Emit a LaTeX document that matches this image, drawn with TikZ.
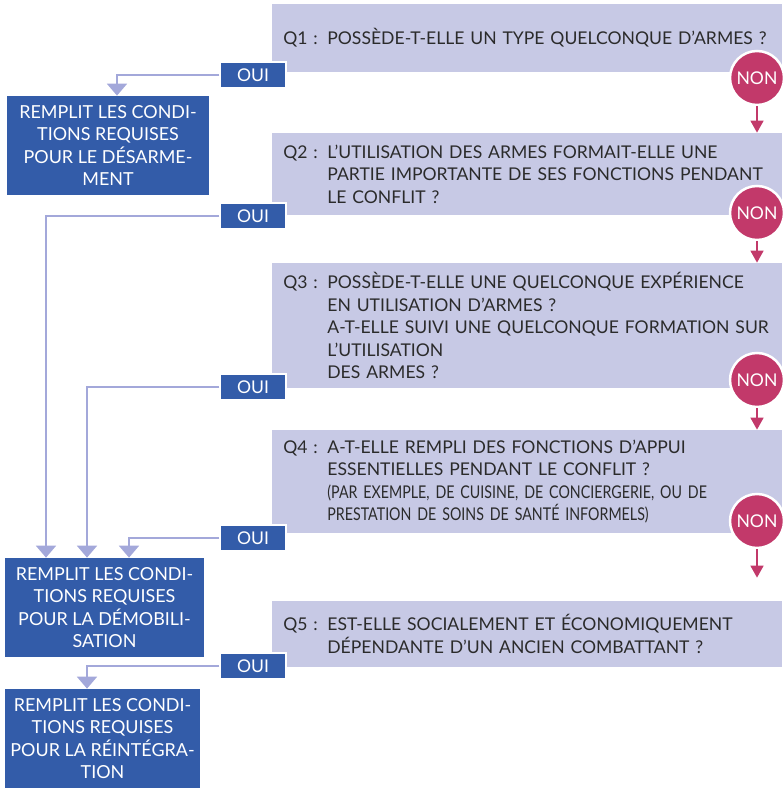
\documentclass[tikz,border=0pt]{standalone}
\usepackage{fontspec}
\setmainfont{Lato}
\newfontfamily\condfont[FakeStretch=0.81]{Lato}
\usetikzlibrary{arrows.meta}
\definecolor{qfill}{HTML}{C7C9E5}
\definecolor{bleu}{HTML}{335CA9}
\definecolor{lien}{HTML}{A3A8DA}
\definecolor{rose}{HTML}{C2396A}
\definecolor{texte}{HTML}{2B2B2B}
\newcommand{\qfont}{\fontsize{10}{12.8}\selectfont}
\newcommand{\qtexte}[2]{\makebox[8.8mm][l]{#1}\parbox[t]{88.8mm}{\qfont #2}}
\tikzset{
	qbox/.style={fill=qfill, text=texte, anchor=west, minimum width=102mm, text width=97.6mm,
		inner xsep=2.2mm, inner ysep=0pt, align=left, font=\qfont},
	resbox/.style={fill=bleu, text=white, align=center, inner sep=0pt, font=\fontsize{10.2}{12.8}\selectfont},
	ouibox/.style={fill=bleu, draw=white, line width=0.3mm, text=white, minimum width=13.2mm,
		minimum height=5.2mm, inner sep=0pt, font=\fontsize{10}{11}\selectfont},
	noncircle/.style={circle, fill=rose, draw=white, line width=0.5mm, text=white,
		minimum size=10.8mm, inner sep=0pt, font=\fontsize{10}{11}\selectfont},
	ouiline/.style={draw=lien, line width=0.4mm, -{Triangle[width=4mm, length=2.4mm]}},
	nonline/.style={draw=rose, line width=0.3mm, -{Triangle[width=2.6mm, length=2.4mm]}}
}
\begin{document}
\begin{tikzpicture}[x=0.2mm, y=-0.2mm]
		\useasboundingbox (0,0) rectangle (782,788);
		% questions
		\node[qbox, minimum height=13.6mm] (q1) at (272,38) {\qtexte{Q1 :}{POSSÈDE-T-ELLE UN TYPE QUELCONQUE D’ARMES ?}};
		\node[qbox, minimum height=16.4mm] (q2) at (272,174) {\qtexte{Q2 :}{L’UTILISATION DES ARMES FORMAIT-ELLE UNE\\PARTIE IMPORTANTE DE SES FONCTIONS PENDANT\\LE CONFLIT ?}};
		\node[qbox, minimum height=25mm] (q3) at (272,325.5) {\qtexte{Q3 :}{POSSÈDE-T-ELLE UNE QUELCONQUE EXPÉRIENCE\\EN UTILISATION D’ARMES ?\\A-T-ELLE SUIVI UNE QUELCONQUE FORMATION SUR\\L’UTILISATION\\DES ARMES ?}};
		\node[qbox, minimum height=20.6mm] (q4) at (272,481.5) {\qtexte{Q4 :}{A-T-ELLE REMPLI DES FONCTIONS D’APPUI\\ESSENTIELLES PENDANT LE CONFLIT ?\\{\condfont (PAR EXEMPLE, DE CUISINE, DE CONCIERGERIE, OU DE}\\{\condfont PRESTATION DE SOINS DE SANTÉ INFORMELS)}}};
		\node[qbox, minimum height=13.2mm] (q5) at (272,634) {\qtexte{Q5 :}{EST-ELLE SOCIALEMENT ET ÉCONOMIQUEMENT\\DÉPENDANTE D’UN ANCIEN COMBATTANT ?}};

		% résultats
		\node[resbox, minimum width=40.4mm, minimum height=19.8mm] (r1) at (108,145.5) {REMPLIT LES CONDI-\\TIONS REQUISES\\POUR LE DÉSARME-\\MENT};
		\node[resbox, minimum width=39.8mm, minimum height=19.8mm] (r2) at (104.5,607.5) {REMPLIT LES CONDI-\\TIONS REQUISES\\POUR LA DÉMOBILI-\\SATION};
		\node[resbox, minimum width=39mm, minimum height=19.8mm] (r3) at (102.5,738.5) {REMPLIT LES CONDI-\\TIONS REQUISES\\POUR LA RÉINTÉGRA-\\TION};

		\foreach \i/\y in {1/78,2/213,3/380,4/521}{
			\node[noncircle] (non\i) at (757,\y) {NON};
		}
		\foreach \i/\y in {1/75,2/216,3/387,4/538,5/666}{
			\node[ouibox] (oui\i) at (253,\y) {OUI};
		}

		\draw[nonline] (non1.south) -- (non1.south |- q2.north);
		\draw[nonline] (non2.south) -- (non2.south |- q3.north);
		\draw[nonline] (non3.south) -- (non3.south |- q4.north);
		\draw[nonline, shorten >=4.6mm] (non4.south) -- (non4.south |- q5.north);

		\draw[ouiline] (oui1.west) -| ([xshift=1.8mm]r1.north);
		\draw[ouiline] (oui2.west) -| ([xshift=-11.7mm]r2.north);
		\draw[ouiline] (oui3.west) -| ([xshift=-3.5mm]r2.north);
		\draw[ouiline] (oui4.west) -| ([xshift=4.9mm]r2.north);
		\draw[ouiline] (oui5.west) -| ([xshift=-3.1mm]r3.north);
	\end{tikzpicture}
\end{document}
